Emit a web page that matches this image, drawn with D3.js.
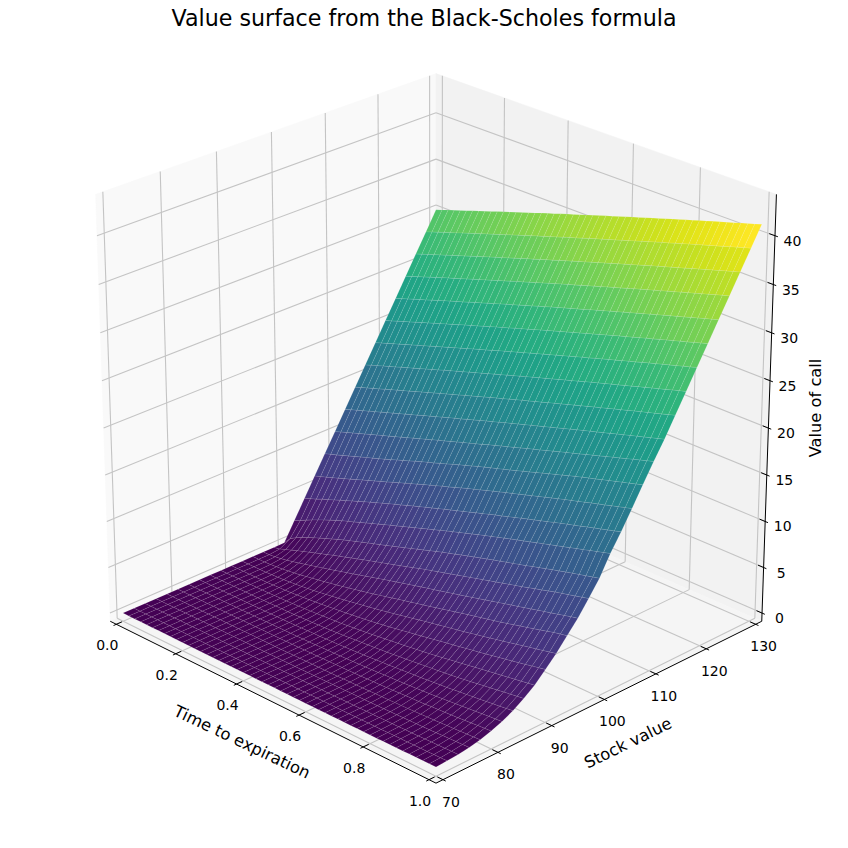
<!DOCTYPE html>
<html><head><meta charset="utf-8"><script src="https://cdn.jsdelivr.net/npm/d3@7"></script>
<style>html,body{margin:0;background:#fff}svg{display:block}text{font-family:"DejaVu Sans";fill:#000}</style></head>
<body><svg id="c" width="848" height="848"></svg>
<script>
const timeValues=[0,.02,.04,.06,.08,.1,.12,.14,.16,.18,.2,.22,.24,.26,.28,.3,.32,.34,.36,.38,.4,.42,.44,.46,.48,.5,.52,.54,.56,.58,.6,.62,.64,.66,.68,.7,.72,.74,.76,.78,.8,.82,.84,.86,.88,.9,.92,.94,.96,.98,1];
const stockValues=[70,72,74,76,78,80,82,84,86,88,90,92,94,96,98,100,102,104,106,108,110,112,114,116,118,120,122,124,126,128,130];
const s70=[0,0,0,0,0,0,0,0,0,0,0,0,0,0,0,0,0,0,0,0,0,0,0,0,0,0,0,0,0,0,0,0,0,0,0,.01,.01,.01,.01,.02,.02,.02,.03,.03,.04,.04,.05,.05,.06,.06,.07];
const s72=[0,0,0,0,0,0,0,0,0,0,0,0,0,0,0,0,0,0,0,0,0,0,0,0,0,0,0,0,0,0,.01,.01,.01,.01,.02,.02,.02,.03,.03,.04,.04,.05,.06,.07,.07,.08,.09,.10,.11,.12,.14];
const s74=[0,0,0,0,0,0,0,0,0,0,0,0,0,0,0,0,0,0,0,0,0,0,0,0,0,0,0,0,.01,.01,.01,.02,.02,.03,.03,.04,.05,.05,.06,.07,.08,.09,.11,.12,.13,.15,.17,.19,.21,.22,.24];
const s76=[0,0,0,0,0,0,0,0,0,0,0,0,0,0,0,0,0,0,0,0,0,0,0,0,.01,.01,.01,.02,.02,.03,.04,.04,.05,.06,.07,.08,.09,.10,.12,.13,.15,.17,.19,.21,.23,.26,.29,.32,.35,.38,.41];
const s78=[0,0,0,0,0,0,0,0,0,0,0,0,0,0,0,0,0,0,0,0,0,.01,.01,.02,.02,.03,.03,.04,.05,.06,.08,.09,.10,.12,.14,.16,.18,.20,.22,.24,.27,.30,.33,.37,.40,.44,.48,.52,.56,.60,.65];
const s80=[0,0,0,0,0,0,0,0,0,0,0,0,0,0,0,0,0,0,.01,.01,.02,.03,.04,.05,.06,.07,.09,.10,.12,.14,.16,.18,.21,.23,.26,.30,.33,.37,.41,.44,.48,.53,.57,.62,.66,.72,.78,.84,.90,.95,1.0];
const s82=[0,0,0,0,0,0,0,0,0,0,0,0,0,0,.01,.01,.02,.02,.03,.04,.05,.07,.09,.11,.13,.15,.18,.21,.24,.27,.30,.34,.38,.42,.46,.50,.55,.60,.65,.70,.76,.83,.89,.96,1.03,1.10,1.17,1.24,1.31,1.37,1.44];
const s84=[0,0,0,0,0,0,0,0,0,0,0,0,.01,.01,.02,.03,.04,.06,.08,.10,.12,.15,.18,.21,.25,.29,.33,.38,.43,.48,.53,.58,.64,.70,.76,.82,.88,.95,1.02,1.09,1.16,1.24,1.32,1.40,1.48,1.56,1.65,1.74,1.83,1.92,2.01];
const s86=[0,0,0,0,0,0,0,0,0,.01,.02,.03,.04,.05,.07,.09,.12,.15,.18,.21,.25,.30,.35,.41,.47,.53,.59,.65,.71,.78,.85,.93,1.01,1.09,1.17,1.25,1.33,1.41,1.50,1.58,1.67,1.77,1.88,1.99,2.10,2.21,2.32,2.43,2.54,2.65,2.76];
const s88=[0,0,0,0,0,0,0,.01,.01,.03,.05,.07,.10,.13,.17,.21,.26,.31,.36,.41,.47,.54,.62,.69,.77,.85,.94,1.03,1.12,1.21,1.30,1.40,1.50,1.60,1.70,1.81,1.93,2.05,2.17,2.29,2.41,2.53,2.65,2.77,2.89,3.01,3.13,3.25,3.37,3.49,3.61];
const s90=[0,0,0,0,0,.01,.02,.04,.07,.10,.14,.19,.25,.31,.37,.44,.52,.60,.67,.76,.85,.94,1.04,1.14,1.24,1.35,1.47,1.60,1.72,1.85,1.98,2.11,2.24,2.37,2.50,2.63,2.76,2.89,3.02,3.15,3.28,3.42,3.56,3.70,3.84,3.98,4.12,4.27,4.42,4.57,4.72];
const s92=[0,0,0,0,.01,.04,.07,.12,.17,.23,.30,.38,.47,.57,.68,.79,.90,1.02,1.14,1.26,1.38,1.51,1.64,1.78,1.92,2.06,2.21,2.36,2.51,2.66,2.81,2.95,3.09,3.23,3.37,3.51,3.65,3.80,3.95,4.10,4.25,4.41,4.57,4.73,4.89,5.05,5.21,5.37,5.53,5.69,5.85];
const s94=[0,0,.01,.04,.09,.15,.24,.34,.44,.56,.68,.81,.94,1.07,1.20,1.34,1.49,1.64,1.79,1.94,2.10,2.27,2.44,2.61,2.78,2.95,3.11,3.27,3.43,3.60,3.77,3.94,4.11,4.28,4.45,4.62,4.78,4.94,5.10,5.26,5.42,5.60,5.78,5.96,6.14,6.32,6.50,6.70,6.90,7.05,7.20];
const s96=[0,.01,.07,.18,.31,.46,.62,.79,.96,1.13,1.31,1.49,1.67,1.85,2.03,2.21,2.40,2.59,2.78,2.97,3.16,3.34,3.52,3.70,3.88,4.06,4.23,4.40,4.57,4.74,4.91,5.09,5.27,5.45,5.63,5.81,5.99,6.17,6.35,6.53,6.71,6.89,7.07,7.25,7.43,7.61,7.79,7.97,8.15,8.33,8.51];
const s98=[0,.12,.37,.61,.85,1.08,1.31,1.53,1.75,1.97,2.20,2.41,2.62,2.83,3.04,3.25,3.45,3.65,3.85,4.05,4.25,4.46,4.67,4.88,5.09,5.30,5.49,5.68,5.87,6.06,6.25,6.44,6.63,6.82,7.01,7.20,7.39,7.58,7.77,7.96,8.15,8.35,8.55,8.75,8.95,9.15,9.33,9.51,9.69,9.87,10.05];
const s100=[0,.78,1.20,1.53,1.83,2.10,2.37,2.63,2.89,3.15,3.40,3.62,3.84,4.06,4.28,4.50,4.72,4.94,5.16,5.38,5.60,5.83,6.06,6.29,6.52,6.75,6.96,7.17,7.38,7.59,7.80,8.00,8.20,8.40,8.60,8.80,8.99,9.18,9.37,9.56,9.77,9.97,10.17,10.37,10.55,10.75,10.93,11.11,11.29,11.47,11.65];
const s102=[2.00,2.30,2.66,2.99,3.29,3.59,3.86,4.14,4.40,4.65,4.88,5.13,5.37,5.62,5.86,6.10,6.34,6.58,6.81,7.05,7.28,7.52,7.75,7.99,8.22,8.46,8.68,8.91,9.13,9.36,9.58,9.80,10.01,10.23,10.44,10.66,10.86,11.07,11.27,11.48,11.68,11.89,12.09,12.30,12.50,12.71,12.91,13.12,13.32,13.53,13.73];
const s104=[4.00,4.26,4.51,4.80,5.04,5.31,5.58,5.83,6.10,6.35,6.61,6.86,7.10,7.35,7.59,7.84,8.08,8.31,8.55,8.78,9.02,9.25,9.47,9.70,9.92,10.15,10.38,10.60,10.83,11.05,11.28,11.50,11.71,11.93,12.14,12.36,12.58,12.79,13.01,13.22,13.44,13.65,13.85,14.06,14.26,14.47,14.68,14.88,15.09,15.29,15.50];
const s106=[6.00,6.24,6.46,6.70,6.94,7.19,7.43,7.68,7.93,8.17,8.42,8.67,8.91,9.16,9.41,9.66,9.90,10.15,10.40,10.64,10.87,11.11,11.34,11.58,11.82,12.06,12.28,12.51,12.74,12.96,13.19,13.41,13.62,13.84,14.06,14.28,14.49,14.71,14.93,15.14,15.36,15.57,15.77,15.98,16.19,16.40,16.60,16.81,17.02,17.22,17.43];
const s108=[8.00,8.24,8.47,8.70,8.93,9.16,9.40,9.64,9.86,10.10,10.33,10.58,10.83,11.07,11.32,11.57,11.81,12.05,12.28,12.52,12.76,13.00,13.24,13.47,13.71,13.95,14.17,14.39,14.60,14.82,15.04,15.27,15.50,15.72,15.95,16.18,16.41,16.64,16.86,17.09,17.32,17.53,17.74,17.94,18.15,18.36,18.57,18.78,18.98,19.19,19.40];
const s110=[10.00,10.24,10.47,10.71,10.94,11.17,11.41,11.64,11.87,12.10,12.33,12.56,12.79,13.03,13.25,13.50,13.73,13.96,14.19,14.41,14.65,14.88,15.10,15.33,15.55,15.80,16.02,16.24,16.46,16.68,16.92,17.14,17.36,17.58,17.80,18.03,18.25,18.47,18.69,18.91,19.14,19.36,19.58,19.80,20.02,20.25,20.46,20.68,20.90,21.12,21.35];
const s112=[12.00,12.24,12.47,12.71,12.94,13.17,13.41,13.64,13.87,14.10,14.33,14.56,14.79,15.03,15.25,15.48,15.71,15.94,16.17,16.39,16.62,16.85,17.07,17.30,17.52,17.75,17.97,18.19,18.41,18.63,18.85,19.07,19.29,19.51,19.73,19.95,20.17,20.39,20.60,20.82,21.03,21.25,21.46,21.68,21.89,22.10,22.31,22.52,22.74,22.95,23.16];
const s114=[14.00,14.24,14.47,14.71,14.94,15.17,15.41,15.64,15.87,16.10,16.33,16.56,16.79,17.03,17.25,17.48,17.71,17.94,18.17,18.39,18.62,18.85,19.07,19.30,19.52,19.75,19.97,20.19,20.41,20.63,20.85,21.07,21.29,21.51,21.73,21.95,22.17,22.39,22.60,22.82,23.03,23.25,23.46,23.68,23.89,24.10,24.31,24.52,24.74,24.95,25.16];
const s116=[16.00,16.24,16.47,16.71,16.94,17.17,17.41,17.64,17.87,18.10,18.33,18.56,18.79,19.03,19.25,19.48,19.71,19.94,20.17,20.39,20.62,20.85,21.07,21.30,21.52,21.75,21.97,22.19,22.41,22.63,22.85,23.07,23.29,23.51,23.73,23.95,24.17,24.39,24.60,24.82,25.03,25.25,25.46,25.68,25.89,26.10,26.31,26.52,26.74,26.95,27.16];
const s118=[18.00,18.24,18.47,18.71,18.94,19.17,19.41,19.64,19.87,20.10,20.33,20.56,20.79,21.03,21.25,21.48,21.71,21.94,22.17,22.39,22.62,22.85,23.07,23.30,23.52,23.75,23.97,24.19,24.41,24.63,24.85,25.07,25.29,25.51,25.73,25.95,26.17,26.39,26.60,26.82,27.03,27.25,27.46,27.68,27.89,28.10,28.31,28.52,28.74,28.95,29.16];
const s120=[20.00,20.24,20.47,20.71,20.94,21.17,21.41,21.64,21.87,22.10,22.33,22.56,22.79,23.03,23.25,23.48,23.71,23.94,24.17,24.39,24.62,24.85,25.07,25.30,25.52,25.75,25.97,26.19,26.41,26.63,26.85,27.07,27.29,27.51,27.73,27.95,28.17,28.39,28.60,28.82,29.03,29.25,29.46,29.68,29.89,30.10,30.31,30.52,30.74,30.95,31.16];
const s122=[22.00,22.24,22.47,22.71,22.94,23.17,23.41,23.64,23.87,24.10,24.33,24.56,24.79,25.03,25.25,25.48,25.71,25.94,26.17,26.39,26.62,26.85,27.07,27.30,27.52,27.75,27.97,28.19,28.41,28.63,28.85,29.07,29.29,29.51,29.73,29.95,30.17,30.39,30.60,30.82,31.03,31.25,31.46,31.68,31.89,32.10,32.31,32.52,32.74,32.95,33.16];
const s124=[24.00,24.24,24.47,24.71,24.94,25.17,25.41,25.64,25.87,26.10,26.33,26.56,26.79,27.03,27.25,27.48,27.71,27.94,28.17,28.39,28.62,28.85,29.07,29.30,29.52,29.75,29.97,30.19,30.41,30.63,30.85,31.07,31.29,31.51,31.73,31.95,32.17,32.39,32.60,32.82,33.03,33.25,33.46,33.68,33.89,34.10,34.31,34.52,34.74,34.95,35.16];
const s126=[26.00,26.24,26.47,26.71,26.94,27.17,27.41,27.64,27.87,28.10,28.33,28.56,28.79,29.03,29.25,29.48,29.71,29.94,30.17,30.39,30.62,30.85,31.07,31.30,31.52,31.75,31.97,32.19,32.41,32.63,32.85,33.07,33.29,33.51,33.73,33.95,34.17,34.39,34.60,34.82,35.03,35.25,35.46,35.68,35.89,36.10,36.31,36.52,36.74,36.95,37.16];
const s128=[28.00,28.24,28.47,28.71,28.94,29.17,29.41,29.64,29.87,30.10,30.33,30.56,30.79,31.03,31.25,31.48,31.71,31.94,32.17,32.39,32.62,32.85,33.07,33.30,33.52,33.75,33.97,34.19,34.41,34.63,34.85,35.07,35.29,35.51,35.73,35.95,36.17,36.39,36.60,36.82,37.03,37.25,37.46,37.68,37.89,38.10,38.31,38.52,38.74,38.95,39.16];
const s130=[30.00,30.24,30.47,30.71,30.94,31.17,31.41,31.64,31.87,32.10,32.33,32.56,32.79,33.03,33.25,33.48,33.71,33.94,34.17,34.39,34.62,34.85,35.07,35.30,35.52,35.75,35.97,36.19,36.41,36.63,36.85,37.07,37.29,37.51,37.73,37.95,38.17,38.39,38.60,38.82,39.03,39.25,39.46,39.68,39.89,40.10,40.31,40.52,40.74,40.95,41.16];
const callRows=[s70,s72,s74,s76,s78,s80,s82,s84,s86,s88,s90,s92,s94,s96,s98,s100,s102,s104,s106,s108,s110,s112,s114,s116,s118,s120,s122,s124,s126,s128,s130];
const timeTicks=[0,.2,.4,.6,.8,1],stockTicks=[70,80,90,100,110,120,130],callTicks=[0,5,10,15,20,25,30,35,40];
const zMax=43.3,colorMax=40.05;
const svg=d3.select('#c');
const el=25*Math.PI/180,az=-45*Math.PI/180,dist=10,scale=4520,cx=436,cy=412.5;
const X=d3.scaleLinear().domain([0,1]).range([0,1]),Y=d3.scaleLinear().domain([70,130]).range([0,1]),Z=d3.scaleLinear().domain([0,zMax]).range([0,1]);
const n=[Math.cos(az)*Math.cos(el),Math.sin(az)*Math.cos(el),Math.sin(el)];
const u=[Math.SQRT1_2,Math.SQRT1_2,0];
const v=[n[1]*u[2]-n[2]*u[1],n[2]*u[0]-n[0]*u[2],n[0]*u[1]-n[1]*u[0]];
function proj(t,s,z){const p=[X(t)-.5,Y(s)-.5,Z(z)-.5];
 const dot=a=>a[0]*p[0]+a[1]*p[1]+a[2]*p[2];
 const w=dist-dot(n);return {x:cx+scale*dot(u)/w,y:cy-scale*dot(v)/w,d:w};}
const m=1/48;const x0=X.invert(-m),x1=X.invert(1+m),y0=Y.invert(-m),y1=Y.invert(1+m),z0=Z.invert(-m),z1=Z.invert(1+m);
const P=(a,b,c)=>{const q=proj(a,b,c);return [q.x,q.y]};
const poly=(pts,fill)=>svg.append('path').attr('d',d3.line()(pts)+'Z').attr('fill',fill).attr('stroke',fill).attr('stroke-width',.5);
poly([P(x0,y0,z0),P(x0,y1,z0),P(x0,y1,z1),P(x0,y0,z1)],'#f9f9f9');
poly([P(x0,y1,z0),P(x1,y1,z0),P(x1,y1,z1),P(x0,y1,z1)],'#f2f2f2');
poly([P(x0,y0,z0),P(x1,y0,z0),P(x1,y1,z0),P(x0,y1,z0)],'#f5f5f5');
const line=(a,b,col,w)=>svg.append('path').attr('d',d3.line()([a,b])).attr('stroke',col).attr('stroke-width',w).attr('fill','none');
const G='#c4c4c4',GW=1.1;
timeTicks.forEach(t=>{line(P(t,y0,z0),P(t,y1,z0),G,GW);line(P(t,y1,z0),P(t,y1,z1),G,GW)});
stockTicks.forEach(s=>{line(P(x1,s,z0),P(x0,s,z0),G,GW);line(P(x0,s,z0),P(x0,s,z1),G,GW)});
callTicks.forEach(c=>{line(P(x0,y0,c),P(x0,y1,c),G,GW);line(P(x0,y1,c),P(x1,y1,c),G,GW)});
line(P(x0,y0,z0),P(x1,y0,z0),'#000',1);line(P(x1,y0,z0),P(x1,y1,z0),'#000',1);line(P(x1,y1,z0),P(x1,y1,z1),'#000',1);
const dx=1/12,dy=60/12,tin=.2,tout=.1;
timeTicks.forEach(t=>line(P(t,y0-dy*tout,z0),P(t,y0+dy*tin,z0),'#000',1));
stockTicks.forEach(s=>line(P(x1+dx*tout,s,z0),P(x1-dx*tin,s,z0),'#000',1));
callTicks.forEach(c=>line(P(x1+dx*tout,y1,c),P(x1-dx*tin,y1,c),'#000',1));
const cells=[];
for(let i=0;i<timeValues.length-1;i++)for(let j=0;j<stockValues.length-1;j++){
 const a=[[i,j],[i+1,j],[i+1,j+1],[i,j+1]];
 const pts=a.map(([r,c])=>proj(timeValues[r],stockValues[c],callRows[c][r]));
 cells.push({pts,d:d3.mean(pts,q=>q.d),z:d3.mean(a,([r,c])=>callRows[c][r])});
}
const col=d3.scaleSequential(d3.interpolateViridis).domain([0,colorMax]);
cells.sort((a,b)=>b.d-a.d).forEach(k=>svg.append('path').attr('d',d3.line()(k.pts.map(q=>[q.x,q.y]))+'Z').attr('fill',col(k.z)).attr('stroke','#fff').attr('stroke-opacity',.2).attr('stroke-width',.4));
const label=(s,x,y,size,rot)=>svg.append('text').text(s).attr('text-anchor','middle').attr('dominant-baseline','central').attr('font-size',size).attr('transform',`translate(${x},${y})`+(rot?` rotate(${rot})`:''));
label('Value surface from the Black-Scholes formula',424,18,22.2);
timeTicks.forEach(t=>{const p=P(t,y0,z0);label(t.toFixed(1),p[0]-9,p[1]+21,14)});
stockTicks.forEach(s=>{const p=P(x1,s,z0);label(s,p[0]+8,p[1]+22,14)});
callTicks.forEach(c=>{const p=P(x1,y1,c);label(c,p[0]+17.5,p[1]+5,14)});
label('Time to expiration',242,742,16.3,25.5);label('Stock value',628,743,16.3,-26);label('Value of call',815,408,16.3,-90);
</script></body></html>
